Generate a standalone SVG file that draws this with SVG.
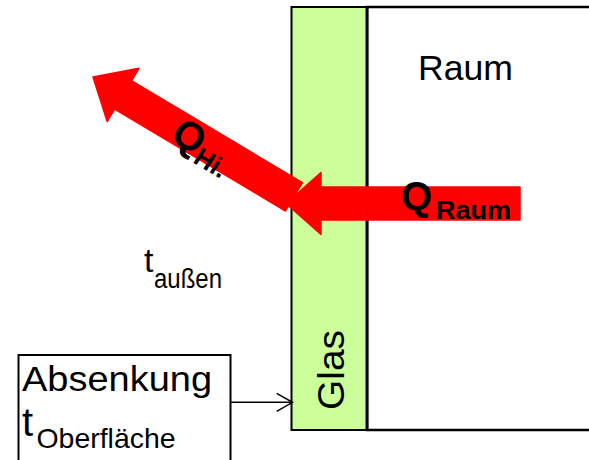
<svg xmlns="http://www.w3.org/2000/svg" width="589" height="460" viewBox="0 0 589 460">
<style>
text{font-family:"Liberation Sans",Arial,sans-serif;fill:#000}
.b{font-weight:bold}
.arrow{fill:#FF0000;stroke:#FF0000;stroke-width:1.5;stroke-linejoin:round}
</style>
<defs>
<path id="fat" d="M0,0 L35,-31 L35,-16.5 L234,-16.5 L234,16.5 L35,16.5 L35,31 Z"/>
</defs>
<rect width="589" height="460" fill="#fff"/>
<g id="raum">
<rect x="367" y="7" width="230" height="423" fill="#fff" stroke="#000" stroke-width="2.5"/>
<text x="418" y="80" font-size="35" textLength="95" lengthAdjust="spacingAndGlyphs">Raum</text>
</g>
<g id="glas">
<rect x="291.5" y="7" width="75.5" height="423" fill="#CCFF99" stroke="#000" stroke-width="2"/>
<line x1="367" y1="7" x2="367" y2="430" stroke="#000" stroke-width="3"/>
<text transform="translate(344,410) rotate(-90)" font-size="36" textLength="80" lengthAdjust="spacingAndGlyphs">Glas</text>
</g>
<g id="aussen">
<text x="144" y="272" font-size="34">t</text>
<text x="154" y="288" font-size="27" textLength="68" lengthAdjust="spacingAndGlyphs">außen</text>
</g>
<g id="absenkung">
<rect x="18.5" y="355" width="212" height="115" fill="#fff" stroke="#000" stroke-width="2"/>
<text x="22" y="391" font-size="35" textLength="190" lengthAdjust="spacingAndGlyphs">Absenkung</text>
<text x="22" y="436" font-size="40">t</text>
<text x="36.5" y="448" font-size="28" textLength="139" lengthAdjust="spacingAndGlyphs">Oberfläche</text>
</g>
<g id="connectors">
<g id="q-hi">
<use href="#fat" class="arrow" transform="translate(93,77) rotate(30.8)"/>
</g>
<g id="q-raum">
<use href="#fat" class="arrow" transform="translate(286,203.5)"/>
</g>
<g id="absenkung-glas" fill="none" stroke="#000" stroke-width="1.5">
<line x1="231" y1="402.3" x2="292" y2="402.3"/>
<polyline points="276.7,393.3 292.5,402.3 276.7,411.3"/>
</g>
</g>
<g id="label-qhi" transform="translate(169,140) rotate(30.8)">
<text class="b" x="0" y="0" font-size="40">Q</text>
<text class="b" x="31" y="7" font-size="26">Hi.</text>
</g>
<g id="label-qraum">
<text class="b" x="401" y="210" font-size="40">Q</text>
<text class="b" x="436" y="219" font-size="25" textLength="75" lengthAdjust="spacingAndGlyphs">Raum</text>
</g>
</svg>
